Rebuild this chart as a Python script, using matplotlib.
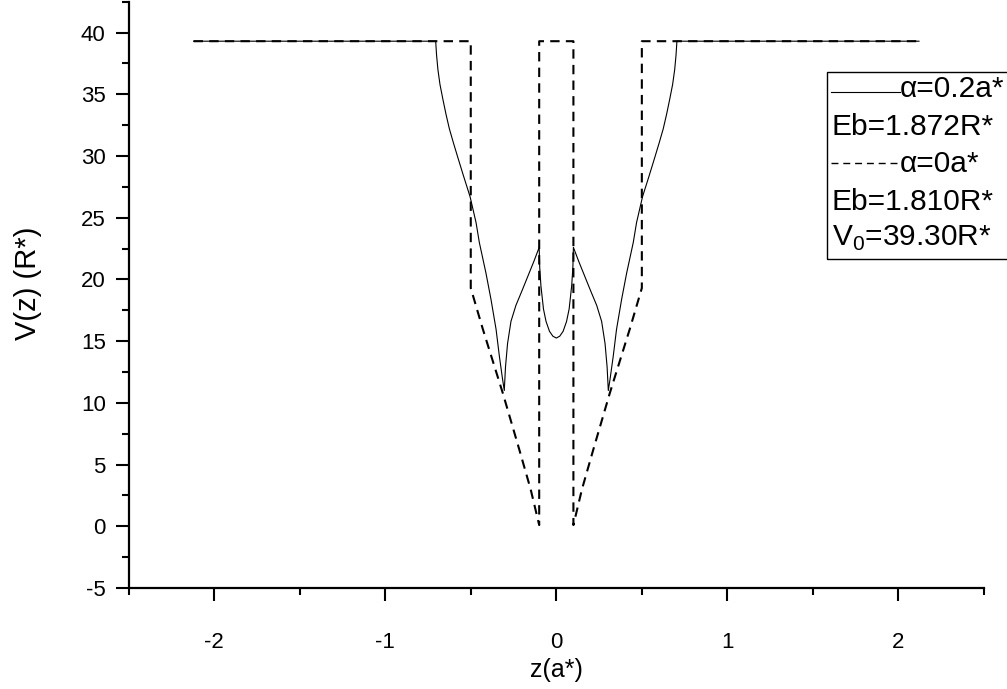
import numpy as np
import matplotlib
matplotlib.use("Agg")
import matplotlib.pyplot as plt
from matplotlib.lines import Line2D
from matplotlib.patches import Rectangle
from matplotlib.ticker import MultipleLocator

plt.rcParams['font.family'] = ['Liberation Sans', 'DejaVu Sans']
plt.rcParams['mathtext.fontset'] = 'custom'
plt.rcParams['mathtext.rm'] = 'Liberation Sans'
plt.rcParams['axes.unicode_minus'] = False

# alpha = 0 (square well + field), left half, mirrored
z_sq_left = [-2.12, -0.5, -0.5, -0.43, -0.313, -0.216, -0.15, -0.1, -0.1]
v_sq_left = [39.3, 39.3, 19.3, 16.0, 10.8, 6.2, 3.0, 0.1, 39.3]

# alpha = 0.2a* (smoothed profile), left half
z_sm_left = [-2.12, -0.705, -0.7, -0.692, -0.68, -0.663, -0.645, -0.625, -0.6, -0.576,
             -0.545, -0.504, -0.469, -0.45, -0.411, -0.382, -0.352, -0.333, -0.315, -0.304,
             -0.297, -0.285, -0.265, -0.236, -0.2, -0.165, -0.13, -0.1,
             -0.097, -0.09, -0.075, -0.06, -0.04, -0.02, 0.0]
v_sm_left = [39.3, 39.3, 38.2, 37.0, 35.8, 34.6, 33.4, 32.2, 31.0, 29.9,
             28.5, 26.7, 24.6, 23.0, 20.5, 18.4, 15.95, 13.8, 12.0, 11.0,
             12.9, 14.8, 16.6, 17.9, 19.1, 20.3, 21.5, 22.6,
             21.0, 19.5, 17.6, 16.6, 15.8, 15.4, 15.25]

z_sq = np.concatenate([z_sq_left, -np.array(z_sq_left[::-1])])
v_sq = np.concatenate([v_sq_left, v_sq_left[::-1]])
z_sm = np.concatenate([z_sm_left, -np.array(z_sm_left[-2::-1])])
v_sm = np.concatenate([v_sm_left, v_sm_left[-2::-1]])

legend_rows = ["\u03b1=0.2a*", "Eb=1.872R*", "\u03b1=0a*", "Eb=1.810R*",
               r"V$_\mathregular{0}$=39.30R*"]

W, H = 1007, 689
fig = plt.figure(figsize=(W / 100, H / 100), dpi=100)
ax = fig.add_axes([128.6 / W, 1 - 588 / H, (984 - 128.6) / W, (588 - 1.7) / H])

ax.plot(z_sm, v_sm, color='black', lw=0.8)
ax.plot(z_sq, v_sq, color='black', lw=1.5, linestyle=(0, (4.5, 3)))

ax.set_xlim(-2.5, 2.5)
ax.set_ylim(-5, 42.5)
ax.spines['top'].set_visible(False)
ax.spines['right'].set_visible(False)
for s in ['left', 'bottom']:
    ax.spines[s].set_linewidth(1.6)
ax.xaxis.set_major_locator(MultipleLocator(1))
ax.xaxis.set_minor_locator(MultipleLocator(0.5))
ax.yaxis.set_major_locator(MultipleLocator(5))
ax.yaxis.set_minor_locator(MultipleLocator(2.5))
ax.tick_params(which='major', direction='out', length=9.5, width=1.5, labelsize=16)
ax.tick_params(which='minor', direction='out', length=5, width=1.5)
ax.tick_params(axis='y', which='major', pad=7)
ax.tick_params(axis='x', which='major', pad=22)
ax.set_xlabel("z(a*)", fontsize=18, labelpad=4)
ax.set_ylabel("V(z) (R*)", fontsize=21)
ax.yaxis.set_label_coords(-0.101, 0.52)


def fx(x):
    return x / W


def fy(y):
    return 1 - y / H


fig.add_artist(Rectangle((fx(827), fy(259)), fx(1012) - fx(827), fy(72) - fy(259),
                         transform=fig.transFigure, fill=False, lw=1.0,
                         edgecolor='black', clip_on=False))
fig.add_artist(Line2D([fx(831), fx(900)], [fy(92), fy(92)], transform=fig.transFigure,
                      color='black', lw=0.8))
fig.add_artist(Line2D([fx(831), fx(900)], [fy(163), fy(163)], transform=fig.transFigure,
                      color='black', lw=1.0, linestyle=(0, (5, 3.5))))
row_x = [900, 832, 900, 832, 832]
row_base = [97, 135, 172, 210, 246]
for s, x, y in zip(legend_rows, row_x, row_base):
    fig.text(fx(x), fy(y), s, fontsize=21.5, ha='left', va='baseline')

fig.savefig("out.png", dpi=100)
